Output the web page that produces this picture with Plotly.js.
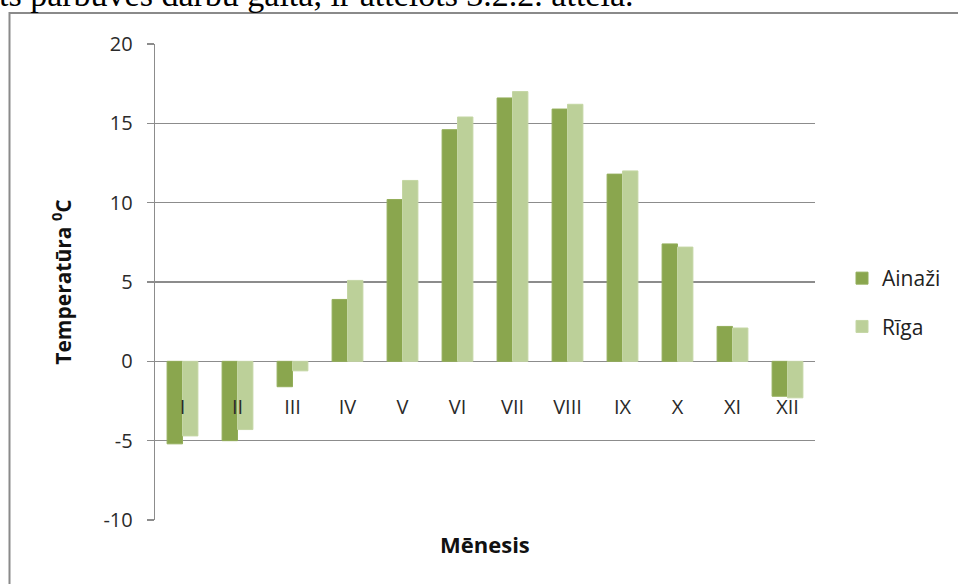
<!DOCTYPE html>
<html>
<head>
<meta charset="utf-8">
<script src="https://cdn.plot.ly/plotly-3.0.1.min.js"></script>
<style>
  html, body { margin: 0; padding: 0; background: #fff; }
  #chart { width: 958px; height: 584px; }
</style>
</head>
<body>
<div id="chart"></div>
<script>
// Mean monthly air temperature, °C
const months = ['I', 'II', 'III', 'IV', 'V', 'VI', 'VII', 'VIII', 'IX', 'X', 'XI', 'XII'];
const ainazi = [-5.2, -5.0, -1.6, 3.9, 10.2, 14.6, 16.6, 15.9, 11.8, 7.4, 2.2, -2.2];
const riga   = [-4.7, -4.3, -0.6, 5.1, 11.4, 15.4, 17.0, 16.2, 12.0, 7.2, 2.1, -2.3];
const seriesNames = ['Ainaži', 'Rīga'];
const yTicks = [-10, -5, 0, 5, 10, 15, 20];

// Plot area in pixels
const W = 958, H = 584;
const L = 155, R = 143, T = 44, B = 64;
const pw = W - L - R, ph = H - T - B;
const px = x => (x - L) / pw;
const py = y => (H - B - y) / ph;

const font = '"Open Sans", Lato, "DejaVu Sans", sans-serif';

const traces = [
  {
    type: 'bar', name: seriesNames[0], x: months, y: ainazi,
    marker: { color: '#8AA64E', line: { color: '#93AE5A', width: 1 } },
    legendgroup: 'a', hoverinfo: 'x+y'
  },
  {
    type: 'bar', name: seriesNames[1], x: months, y: riga,
    marker: { color: '#BCD099', line: { color: '#C4D6A4', width: 1 } },
    legendgroup: 'b', hoverinfo: 'x+y'
  }
];

const layout = {
  width: W, height: H,
  margin: { l: L, r: R, t: T, b: B, pad: 0 },
  paper_bgcolor: '#fff', plot_bgcolor: '#fff',
  font: { family: font, size: 20, color: '#2a2a2a' },
  barmode: 'group', bargap: 0.44, bargroupgap: 0,
  showlegend: true,
  legend: {
    x: px(842), y: py(258), xanchor: 'left', yanchor: 'top',
    traceorder: 'grouped', tracegroupgap: 18,
    font: { family: font, size: 21, color: '#222' },
    bgcolor: 'rgba(0,0,0,0)'
  },
  xaxis: {
    type: 'category',
    anchor: 'free', position: py(393),
    showline: false, showgrid: false, zeroline: false,
    ticks: '', tickfont: { family: font, size: 20, color: '#2a2a2a' }
  },
  yaxis: {
    range: [-10, 20], tickvals: yTicks, ticktext: yTicks.map(String),
    showline: true, linecolor: '#8C8C8C', linewidth: 1.3,
    ticks: 'outside', ticklen: 7, tickcolor: '#8C8C8C', tickwidth: 1.3,
    showgrid: true, gridcolor: '#8C8C8C', gridwidth: 1.3,
    zeroline: true, zerolinecolor: '#8C8C8C', zerolinewidth: 1.3,
    tickfont: { family: font, size: 20, color: '#2a2a2a' },
    ticklabelstandoff: 10,
    title: { text: 'Temperatūra <sup>0</sup>C', font: { family: font, size: 21, color: '#111', weight: 'bold' }, standoff: 26 }
  },
  annotations: [
    {
      text: '<b>Mēnesis</b>', xref: 'paper', yref: 'paper',
      x: px(485), y: py(544), xanchor: 'center', yanchor: 'middle',
      showarrow: false, font: { family: font, size: 22, color: '#111' }
    },
    {
      text: 'ts pārbūves darbu gaitā, ir attēlots 3.2.2. attēlā.',
      xref: 'paper', yref: 'paper',
      x: px(-3), y: py(-5), xanchor: 'left', yanchor: 'middle',
      showarrow: false,
      font: { family: '"Liberation Serif", "DejaVu Serif", serif', size: 34, color: '#000' }
    }
  ],
  shapes: [
    {
      type: 'path', xref: 'paper', yref: 'paper',
      path: `M ${px(9.5)} ${py(600)} L ${px(9.5)} ${py(13)} L ${px(970)} ${py(13)}`,
      line: { color: '#8A8A8A', width: 2 }
    }
  ]
};

Plotly.newPlot('chart', traces, layout, { displayModeBar: false, staticPlot: true });
</script>
</body>
</html>
